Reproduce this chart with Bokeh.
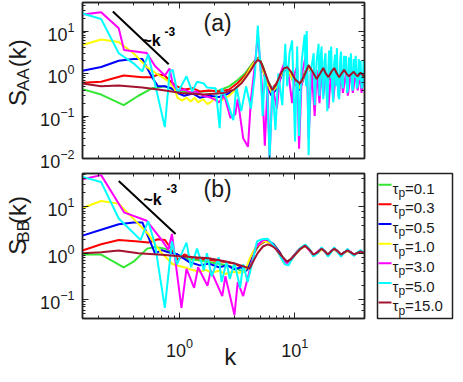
import numpy as np
from bokeh.plotting import figure
from bokeh.models import LogAxis, CustomJSTickFormatter, Range1d, Label
from bokeh.core.properties import value
from bokeh.layouts import column, row
from bokeh.embed import file_html
from bokeh.resources import INLINE

# ---------------- data: panel (a) S_AA(k) ----------------
k_green_AA = [0.144,0.209,0.328,0.44,0.578,0.746,0.907,1.2,1.6,2.2,2.7,3.2,3.7,4.2,4.6,4.9,5.3,5.8,6.3,6.9,7.8,8.6,9.6,11.0,13.0,15.5,17.7,19.6,22.0,24.3,27.0,29.5,33.0,36.0,40.3]
S_green_AA = [0.43,0.32,0.18,0.30,0.45,0.50,0.41,0.36,0.38,0.40,0.50,0.70,1.0,1.6,2.2,2.4,1.5,0.7,0.45,0.55,1.2,1.5,0.8,0.55,1.6,0.7,1.3,0.75,1.3,0.8,1.2,0.85,1.1,0.85,1.0]

k_red_AA = [0.144,0.209,0.328,0.476,0.578,0.65,0.746,0.822,0.95,1.1,1.3,1.5,1.8,2.2,2.7,3.2,3.7,4.2,4.6,4.9,5.3,5.8,6.3,7.0,7.8,8.6,9.6,11.0,13.0,15.5,17.7,19.6,22.0,24.3,27.0,29.5,33.0,36.0,40.3]
S_red_AA = [0.61,0.64,0.9,0.82,0.82,0.95,0.9,0.67,0.5,0.42,0.45,0.38,0.4,0.38,0.42,0.6,0.9,1.5,2.1,2.3,1.4,0.65,0.42,0.6,1.1,1.4,0.8,0.5,1.5,0.7,1.3,0.8,1.3,0.8,1.2,0.85,1.1,0.85,1.0]

k_blue_AA = [0.144,0.209,0.297,0.399,0.476,0.578,0.65,0.746,0.85,0.95,1.1,1.3,1.5,1.8,2.2,2.6,3.0,3.4,3.8,4.2,4.6,4.9,5.3,5.8,6.3,7.0,7.8,8.6,9.6,11.0,13.0,15.5,17.7,19.6,22.0,24.3,27.0,29.5,33.0,36.0,40.3]
S_blue_AA = [1.16,1.42,2.0,2.2,2.2,0.82,0.5,0.5,0.45,0.35,0.3,0.34,0.27,0.3,0.28,0.33,0.4,0.6,0.9,1.5,2.0,2.2,1.2,0.5,0.3,0.45,1.0,1.4,0.7,0.4,1.5,0.6,1.3,0.7,1.3,0.75,1.2,0.8,1.1,0.85,1.0]

k_yellow_AA = [0.144,0.209,0.297,0.399,0.524,0.65,0.791,0.9,0.96,1.05,1.15,1.25,1.35,1.45,1.6,1.75,1.9,2.0,2.2,2.4,2.7,3.0,3.4,3.8,4.2,4.6,4.9,5.3,5.8,6.3,7.0,7.8,8.6,9.6,11.0,13.0,15.5,17.7,19.6,22.0,24.3,27.0,29.5,33.0,36.0,40.3]
S_yellow_AA = [4.7,6.3,5.5,3.0,1.4,0.95,0.67,0.45,0.27,0.23,0.27,0.22,0.27,0.21,0.25,0.19,0.22,0.27,0.21,0.25,0.3,0.4,0.6,0.9,1.5,2.0,2.2,1.2,0.55,0.35,0.5,1.1,1.4,0.7,0.45,1.5,0.65,1.3,0.75,1.3,0.8,1.2,0.8,1.1,0.85,1.0]

k_magenta_AA = [0.144,0.209,0.297,0.33,0.52,0.613,0.746,0.82,0.873,0.96,1.1,1.25,1.4,1.6,1.8,2.0,2.19,2.45,2.77,3.05,3.2,3.57,3.93,4.17,4.5,4.78,5.0,5.27,5.5,5.8,6.05,6.4,7.0,7.5,8.27,8.9,9.5,10.0,10.5,10.9,11.5,12.2,12.7,13.2,14.0,14.9,15.5,16.4,17.1,17.7,18.8,19.6,20.7,21.6,22.9,24.3,25.2,26.2,27.8,28.9,30.7,31.9,33.8,35.2,36.5,38.0,39.6,40.3]
S_magenta_AA = [24.6,27.7,11.6,3.6,3.05,1.5,0.9,1.3,0.58,0.4,0.42,0.36,0.38,0.3,0.28,0.25,0.21,0.3,0.09,0.11,0.25,0.03,0.019,0.25,1.5,8.0,2.0,0.3,0.02,0.5,0.01,0.5,0.15,1.0,2.0,0.8,0.2,1.0,1.5,0.017,0.9,2.0,3.0,0.03,1.2,0.1,1.2,0.2,1.4,0.3,1.1,0.15,1.2,0.25,1.1,0.3,1.1,0.35,1.0,0.3,1.1,0.35,1.0,0.4,1.0,0.35,1.1,0.5]

k_cyan_AA = [0.144,0.209,0.297,0.399,0.476,0.535,0.746,0.822,0.873,0.962,1.15,1.29,1.42,1.63,1.73,2.06,2.23,2.32,2.56,2.93,3.11,3.43,3.78,4.17,4.51,4.78,5.0,5.27,5.5,5.8,6.05,6.41,6.8,7.2,7.8,8.27,8.6,9.0,9.49,9.8,10.06,10.5,10.9,11.5,12.2,12.5,12.7,13.2,13.7,14.6,14.9,15.5,16.1,16.4,16.8,17.1,17.4,17.7,18.1,18.5,18.8,19.2,19.6,19.9,20.3,20.7,21.1,21.6,22.0,22.4,22.9,23.2,23.8,24.3,24.8,25.2,25.7,26.2,26.8,27.3,27.8,28.4,28.9,29.5,30.1,30.7,31.3,31.9,32.5,33.1,33.8,34.5,35.2,35.9,36.5,37.3,38.0,38.8,39.6,40.3]
S_cyan_AA = [26,19.2,3.0,1.74,1.12,2.86,0.055,1.1,1.23,0.35,0.86,0.38,0.64,0.58,0.47,0.45,0.052,0.45,0.25,0.08,0.5,0.13,0.5,0.15,0.95,13.5,2.0,0.1,1.0,0.3,0.01,0.5,0.047,1.0,0.18,5.0,0.5,3.0,6.0,0.3,0.025,4.3,0.034,2.0,8.2,0.5,10,0.012,1.0,3.0,0.18,2.0,5.0,0.3,2.5,4.3,0.6,0.25,2.0,3.0,0.4,0.13,1.5,3.5,0.8,4.3,0.5,0.21,1.8,2.8,0.5,4.0,0.3,0.25,2.2,3.3,0.6,0.45,2.6,1.0,2.6,0.35,0.4,2.4,1.0,3.0,0.5,0.4,2.2,0.8,2.6,0.45,0.5,2.2,0.7,2.0,0.45,0.5,2.0,1.0]

k_brown_AA = [0.144,0.209,0.297,0.476,0.703,1.04,1.63,2.41,2.93,3.43,3.78,4.17,4.51,4.78,5.05,5.48,5.95,6.41,6.9,7.5,8.0,8.6,9.3,10.1,11.1,12.0,13.2,14.3,15.5,16.6,17.7,18.6,19.6,20.8,22.0,23.2,24.3,25.5,26.8,28.1,29.5,31.0,32.5,33.8,35.2,36.2,37.3,38.4,39.6,40.3]
S_brown_AA = [0.58,0.50,0.52,0.47,0.41,0.35,0.32,0.35,0.41,0.58,0.82,1.22,1.74,2.1,1.9,1.1,0.6,0.41,0.55,0.95,1.3,1.42,1.1,0.72,0.58,0.85,1.57,1.1,0.74,1.0,1.35,1.0,0.82,1.1,1.35,1.0,0.82,1.0,1.22,1.0,0.86,0.98,1.10,0.95,0.86,0.95,1.05,0.95,0.86,0.95]

k_guide_AA = [0.264, 0.806]
S_guide_AA = [28.7, 1.65]

# ---------------- data: panel (b) S_BB(k) ----------------
k_green_BB = [0.144,0.209,0.328,0.399,0.524,0.613,0.746,0.907,1.13,1.5,2.0,2.5,3.0,3.57,3.9,4.3,4.9,5.7,6.6,7.5,8.4,9.2,10.0,11.1,12.3,13.4,14.5,15.8,17.1,18.2,19.4,20.7,22.0,23.6,25.2,27.0,28.7,30.6,32.7,35.0,37.3,40.3]
S_green_BB = [0.94,0.94,0.5,0.66,1.26,1.37,1.26,1.0,0.77,0.7,0.62,0.56,0.5,0.4,0.45,0.9,1.5,1.9,1.55,1.0,0.62,0.75,0.95,1.25,1.45,1.2,0.92,1.05,1.25,1.1,0.92,1.1,1.25,1.1,0.92,1.05,1.15,1.05,0.94,1.02,1.1,1.02]

k_red_BB = [0.144,0.209,0.297,0.44,0.535,0.65,0.746,0.822,0.9,0.97,1.1,1.3,1.6,2.0,2.5,3.0,3.5,3.8,4.2,4.8,5.6,6.5,7.4,8.3,9.2,10.0,11.1,12.3,13.4,14.5,15.8,17.1,18.2,19.4,20.7,22.0,23.6,25.2,27.0,28.7,30.6,32.7,35.0,37.3,40.3]
S_red_BB = [1.15,1.56,1.94,1.8,1.7,2.0,1.94,1.38,0.94,0.72,0.94,0.8,0.75,0.7,0.65,0.6,0.5,0.45,0.8,1.45,1.9,1.6,1.05,0.63,0.72,0.94,1.25,1.45,1.2,0.93,1.05,1.25,1.1,0.93,1.1,1.25,1.1,0.93,1.05,1.15,1.05,0.94,1.02,1.1,1.02]

k_blue_BB = [0.144,0.209,0.297,0.399,0.476,0.613,0.703,0.8,0.96,1.2,1.5,1.8,2.2,2.6,3.0,3.4,3.8,4.2,4.7,5.5,6.4,7.3,8.2,9.1,10.0,11.1,12.3,13.4,14.5,15.8,17.1,18.2,19.4,20.7,22.0,23.6,25.2,27.0,28.7,30.6,32.7,35.0,37.3,40.3]
S_blue_BB = [2.4,3.2,4.2,4.6,4.6,1.0,1.17,1.05,0.95,0.66,0.55,0.6,0.5,0.55,0.45,0.5,0.42,0.85,1.5,1.95,1.65,1.1,0.62,0.7,0.92,1.25,1.45,1.2,0.92,1.05,1.25,1.1,0.92,1.1,1.25,1.1,0.92,1.05,1.15,1.05,0.94,1.02,1.1,1.02]

k_yellow_BB = [0.144,0.209,0.297,0.399,0.535,0.613,0.703,0.873,1.1,1.25,1.5,1.7,1.9,2.2,2.5,2.9,3.3,3.7,4.1,4.6,5.4,6.3,7.2,8.1,9.0,10.0,11.1,12.3,13.4,14.5,15.8,17.1,18.2,19.4,20.7,22.0,23.6,25.2,27.0,28.7,30.6,32.7,35.0,37.3,40.3]
S_yellow_BB = [9.4,13.3,11.7,5.5,2.6,1.56,1.0,0.58,0.5,0.45,0.4,0.44,0.38,0.42,0.36,0.4,0.38,0.42,0.8,1.4,1.85,1.6,1.05,0.6,0.68,0.9,1.22,1.42,1.18,0.9,1.03,1.22,1.08,0.9,1.08,1.22,1.08,0.9,1.03,1.13,1.03,0.92,1.0,1.08,1.0]

k_magenta_BB = [0.144,0.209,0.33,0.52,0.70,0.80,0.86,1.04,1.15,1.34,1.45,1.75,1.87,2.35,2.5,3.0,3.2,3.57,4.0,4.6,5.3,5.8,6.5,7.5,8.5,9.5,10.5,12.3,14.5,17.1,19.4,22.0,25.2,28.7,32.7,37.3,40.3]
S_magenta_BB = [39,48,7.6,5.0,1.94,1.2,2.6,0.067,0.46,0.18,0.5,0.2,0.43,0.12,0.32,0.047,0.24,0.12,0.37,1.37,1.9,2.0,1.5,0.9,0.6,0.8,1.1,1.5,0.9,1.3,0.9,1.3,0.9,1.2,0.92,1.1,1.0]

k_cyan_BB = [0.144,0.209,0.297,0.46,0.535,0.613,0.746,0.86,0.95,1.15,1.26,1.42,1.63,1.73,1.9,2.19,2.32,2.56,2.73,3.0,3.36,3.57,3.9,4.3,4.7,5.2,5.8,6.4,7.0,7.6,8.2,8.8,9.5,10.2,11.2,12.3,13.4,14.5,15.8,17.1,18.2,19.4,20.7,22.0,23.6,25.2,27.0,28.7,30.6,32.7,35.0,37.3,40.3]
S_cyan_BB = [44,34,5.6,1.94,4.9,1.56,0.067,1.8,0.58,1.7,0.5,1.26,0.43,1.0,0.32,0.82,0.24,0.66,0.28,0.62,0.18,0.58,0.24,0.66,1.8,2.0,2.05,1.6,1.2,0.8,0.58,0.55,0.75,1.0,1.3,1.55,1.25,0.85,1.0,1.35,1.1,0.85,1.05,1.35,1.05,0.85,1.05,1.25,1.0,0.88,1.05,1.18,1.0]

k_brown_BB = [0.144,0.209,0.297,0.44,0.703,1.0,1.34,1.8,2.4,2.9,3.4,3.78,4.06,4.4,4.78,5.3,5.82,6.3,6.84,7.6,8.6,9.3,10.1,11.2,12.3,13.4,14.5,15.8,17.1,18.2,19.4,20.7,22.0,23.6,25.2,27.0,28.7,30.6,32.7,35.0,37.3,38.8,40.3]
S_brown_BB = [1.0,1.05,1.15,1.0,0.93,0.86,0.82,0.78,0.68,0.62,0.55,0.5,0.47,0.7,1.02,1.4,1.56,1.45,1.26,0.9,0.66,0.75,0.94,1.25,1.46,1.2,0.94,1.05,1.26,1.1,0.94,1.1,1.26,1.1,0.94,1.05,1.16,1.05,0.94,1.02,1.1,1.05,1.02]

k_guide_BB = [0.297, 0.925]
S_guide_BB = [35.7, 2.61]

tau_values = ["=0.1", "=0.3", "=0.5", "=1.0", "=3.0", "=5.0", "=15.0"]
colors = ["#33e633", "#ff0000", "#0000ff", "#ffff00", "#ff00ff", "#00ffff", "#a2142f"]

series_AA = [(k_green_AA, S_green_AA), (k_red_AA, S_red_AA), (k_blue_AA, S_blue_AA),
             (k_yellow_AA, S_yellow_AA), (k_magenta_AA, S_magenta_AA),
             (k_cyan_AA, S_cyan_AA), (k_brown_AA, S_brown_AA)]
series_BB = [(k_green_BB, S_green_BB), (k_red_BB, S_red_BB), (k_blue_BB, S_blue_BB),
             (k_yellow_BB, S_yellow_BB), (k_magenta_BB, S_magenta_BB),
             (k_cyan_BB, S_cyan_BB), (k_brown_BB, S_brown_BB)]
for kk, ss in series_AA + series_BB:
    assert len(kk) == len(ss), (len(kk), len(ss))

K_MIN, K_MAX = 0.144, 40.3
FONT = "Liberation Sans"
TXT = "#1a1a1a"
LEFT, FW, RIGHT = 50, 282, 6
FH = 156
TOP_A, BOT_A = 2, 14
TOP_B, BOT_B = 0, 44
H_A = TOP_A + FH + BOT_A
H_B = TOP_B + FH + BOT_B
YLW = 32


def style_axis(ax, show_labels):
    ax.major_tick_in = 6
    ax.major_tick_out = 0
    ax.minor_tick_in = 3
    ax.minor_tick_out = 0
    ax.axis_line_width = 1.5
    ax.axis_line_color = "#222222"
    ax.major_tick_line_color = "#222222"
    ax.minor_tick_line_color = "#222222"
    if show_labels:
        ax.major_label_text_font = FONT
        ax.major_label_text_font_size = "18px"
        ax.major_label_text_color = TXT
        ax.major_label_standoff = 8
    else:
        ax.formatter = CustomJSTickFormatter(code="return ''")
        ax.major_label_text_font_size = "1px"
        ax.major_label_standoff = 0


def make_panel(y_lo, y_hi, x_labels, top, bottom):
    p = figure(x_axis_type="log", y_axis_type="log",
               x_range=Range1d(K_MIN, K_MAX), y_range=Range1d(y_lo, y_hi),
               width=LEFT + FW + RIGHT, height=top + FH + bottom,
               min_border_left=LEFT, min_border_right=RIGHT,
               min_border_top=top, min_border_bottom=bottom,
               output_backend="svg", toolbar_location=None)
    p.grid.visible = False
    p.outline_line_color = "#222222"
    p.outline_line_width = 1.5
    p.add_layout(LogAxis(), "above")
    p.add_layout(LogAxis(), "right")
    style_axis(p.left[0], True)
    style_axis(p.below[0], x_labels)
    style_axis(p.above[0], False)
    style_axis(p.right[0], False)
    return p


def blank_fig(width, height, x_end, y_end, left=0, right=0, top=0, bottom=0):
    f = figure(width=width, height=height, x_range=Range1d(0, x_end), y_range=Range1d(0, y_end),
               x_axis_location=None, y_axis_location=None,
               min_border_left=left, min_border_right=right, min_border_top=top,
               min_border_bottom=bottom, output_backend="svg", toolbar_location=None)
    f.grid.visible = False
    f.outline_line_color = None
    return f


def ylabel_fig(height, top, sub):
    f = blank_fig(YLW, height, YLW, height)
    yc = height - (top + FH / 2)
    y0 = yc - 34
    common = dict(angle=np.pi / 2, text_font=value(FONT), text_color=TXT,
                  text_baseline="alphabetic", text_align="left")
    f.text(x=[17], y=[y0], text=["S"], text_font_size="24px", **common)
    f.text(x=[23], y=[y0 + 16.5], text=[sub], text_font_size="17px", **common)
    f.text(x=[17], y=[y0 + 42.5], text=["(k)"], text_font_size="24px", **common)
    return f


def add_texts(p, tag, tag_top, kx, ktop, ex, etop):
    p.add_layout(Label(x=121, y=FH - tag_top, x_units="screen", y_units="screen", text=tag,
                       text_font=FONT, text_font_size="23px", text_color=TXT, text_baseline="top"))
    p.add_layout(Label(x=kx, y=FH - ktop, x_units="screen", y_units="screen", text="~k",
                       text_font=FONT, text_font_size="16px", text_font_style="bold",
                       text_color="black", text_baseline="top"))
    p.add_layout(Label(x=ex, y=FH - etop, x_units="screen", y_units="screen", text="-3",
                       text_font=FONT, text_font_size="12px", text_font_style="bold",
                       text_color="black", text_baseline="top"))


# ---------------- panel (a) ----------------
pa = make_panel(0.01, 47, False, TOP_A, BOT_A)
for (kk, ss), c in zip(series_AA, colors):
    pa.line(kk, ss, line_color=c, line_width=2)
pa.line(k_guide_AA, S_guide_AA, line_color="black", line_width=2)
add_texts(pa, "(a)", 7, 60, 29, 82, 24)

# ---------------- panel (b) ----------------
pb = make_panel(0.0396, 52, True, TOP_B, BOT_B)
for (kk, ss), c in zip(series_BB, colors):
    pb.line(kk, ss, line_color=c, line_width=2)
pb.line(k_guide_BB, S_guide_BB, line_color="black", line_width=2)
add_texts(pb, "(b)", 13, 61, 28, 84, 21)
xa = pb.below[0]
xa.major_label_standoff = 19
xa.axis_label = "\u00a0\u00a0k"
xa.axis_label_text_font = FONT
xa.axis_label_text_font_size = "24px"
xa.axis_label_text_font_style = "normal"
xa.axis_label_text_color = TXT
xa.axis_label_standoff = -17

# ---------------- legend box to the right of panel (b) ----------------
LGW, LGH = 75, 155
lg = blank_fig(7 + LGW + 2, H_B, LGW, LGH, left=7, right=2, top=TOP_B + 1,
               bottom=H_B - TOP_B - 1 - LGH)
lg.outline_line_color = "#222222"
lg.outline_line_width = 1.5
row_y = [LGH - 12 - 21.0 * i for i in range(len(colors))]
lg.segment(x0=[1] * len(colors), x1=[14] * len(colors), y0=row_y, y1=row_y,
           line_color=colors, line_width=2)
lg.text(x=[15] * len(colors), y=[y - 3.5 for y in row_y], text=["τ"] * len(colors),
        text_font=value(FONT), text_font_size="15px", text_color=TXT, text_baseline="alphabetic")
lg.text(x=[21] * len(colors), y=[y - 8.5 for y in row_y], text=["p"] * len(colors),
        text_font=value(FONT), text_font_size="12px", text_color=TXT, text_baseline="alphabetic")
lg.text(x=[27.5] * len(colors), y=[y - 3.5 for y in row_y], text=tau_values,
        text_font=value(FONT), text_font_size="15px", text_color=TXT, text_baseline="alphabetic")

layout = column(row(ylabel_fig(H_A, TOP_A, "AA"), pa),
                row(ylabel_fig(H_B, TOP_B, "BB"), pb, lg))
open("out.html", "w").write(file_html(layout, INLINE))
